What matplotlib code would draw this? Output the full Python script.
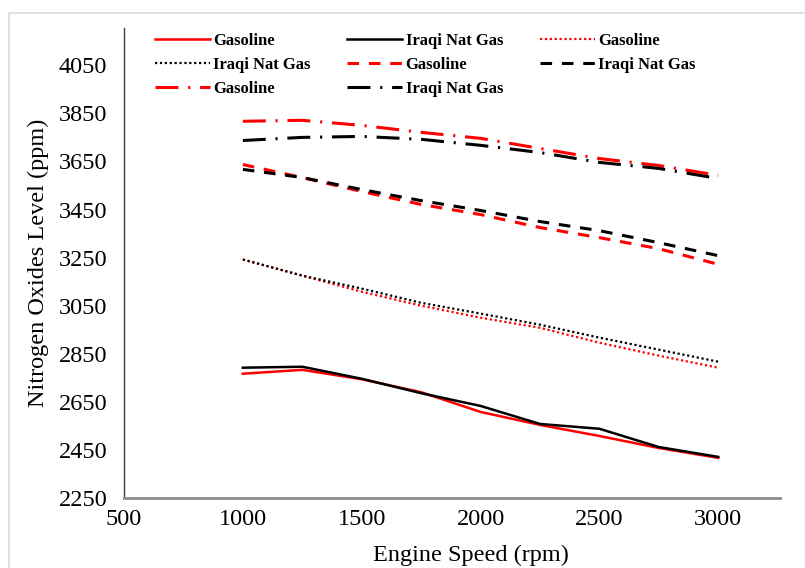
import matplotlib
matplotlib.use("Agg")
import matplotlib.pyplot as plt
from matplotlib.patches import Rectangle

plt.rcParams['font.family'] = ['Liberation Serif', 'DejaVu Serif']

# engine speed (rpm)
speed = [1000, 1250, 1500, 1750, 2000, 2250, 2500, 2750, 3000]

# NOx (ppm), one pair per case
solid_gas = [2767, 2783, 2744, 2690, 2608, 2554, 2508, 2458, 2417]
solid_ing = [2792, 2796, 2746, 2686, 2633, 2558, 2538, 2462, 2421]
dot_gas = [3242, 3175, 3108, 3050, 3000, 2958, 2896, 2842, 2792]
dot_ing = [3242, 3175, 3121, 3062, 3017, 2971, 2917, 2867, 2817]
dash_gas = [3637, 3583, 3525, 3471, 3429, 3375, 3333, 3287, 3222]
dash_ing = [3617, 3583, 3533, 3487, 3446, 3400, 3362, 3312, 3258]
dashdot_gas = [3817, 3821, 3800, 3771, 3746, 3704, 3662, 3633, 3592]
dashdot_ing = [3737, 3750, 3754, 3742, 3717, 3687, 3646, 3621, 3579]

y_ticks = [2250, 2450, 2650, 2850, 3050, 3250, 3450, 3650, 3850, 4050]
x_ticks = [500, 1000, 1500, 2000, 2500, 3000]

red = '#ff0000'
blk = '#000000'

fig = plt.figure(figsize=(8.05, 5.68), dpi=100)
ax = fig.add_axes([124/805, 1-498/568, (780-124)/805, (498-28)/568])

# light chart-area border
fig.patches.append(Rectangle((9/805, -0.2), 1.2, 1-13/568+0.2, transform=fig.transFigure,
                             fill=False, edgecolor='#d9d9d9', linewidth=1.2))

h = []
h += ax.plot(speed, solid_gas, color=red, lw=1.8, label='Gasoline')
h += ax.plot(speed, solid_ing, color=blk, lw=1.8, label='Iraqi Nat Gas')
h += ax.plot(speed, dot_gas, color=red, lw=1.6, ls=(0, (1, 1.2)), label='Gasoline')
h += ax.plot(speed, dot_ing, color=blk, lw=1.6, ls=(0, (1, 1.2)), label='Iraqi Nat Gas')
h += ax.plot(speed, dash_gas, color=red, lw=2.2, ls=(0, (3.8, 3.2)), label='Gasoline')
h += ax.plot(speed, dash_ing, color=blk, lw=2.2, ls=(0, (3.8, 3.2)), label='Iraqi Nat Gas')
h += ax.plot(speed, dashdot_gas, color=red, lw=2.2, ls=(0, (7.5, 3.2, 0.7, 3.2)), label='Gasoline')
h += ax.plot(speed, dashdot_ing, color=blk, lw=2.2, ls=(0, (7.5, 3.2, 0.7, 3.2)), label='Iraqi Nat Gas')

ax.set_xlim(500, 3260)
ax.set_ylim(2250, 4205)
ax.set_xticks(x_ticks)
ax.set_yticks(y_ticks)
ax.tick_params(length=0, labelsize=17.5, pad=8)
ax.tick_params(axis='y', pad=12)
for s in ['top', 'right']:
    ax.spines[s].set_visible(False)
ax.spines['left'].set_color('#404040')
ax.spines['bottom'].set_color('#8c8c8c')
ax.spines['left'].set_linewidth(1.0)
ax.spines['bottom'].set_linewidth(2.0)

ax.set_xlabel('Engine Speed (rpm)', fontsize=17.5)
ax.set_ylabel('Nitrogen Oxides Level (ppm)', fontsize=17.5)
ax.xaxis.set_label_coords((471-124)/(780-124), -(555-498)/(498-28))
ax.xaxis.label.set_va('center')
ax.yaxis.set_label_coords(-(124-38)/(780-124), 0.5)
ax.yaxis.label.set_va('center')

# legend is row-major in the original, matplotlib fills columns
order = [0, 3, 6, 1, 4, 7, 2, 5]
ax.legend([h[i] for i in order], [h[i].get_label() for i in order],
          ncol=3, frameon=False, loc='upper left',
          bbox_to_anchor=(155/805, 1-33/568), bbox_transform=fig.transFigure,
          borderpad=0, borderaxespad=0, handlelength=3.3, handletextpad=0.2,
          columnspacing=2.2, labelspacing=0.48,
          prop={'size': 12, 'weight': 'bold'})

fig.savefig('out.png', dpi=100)
